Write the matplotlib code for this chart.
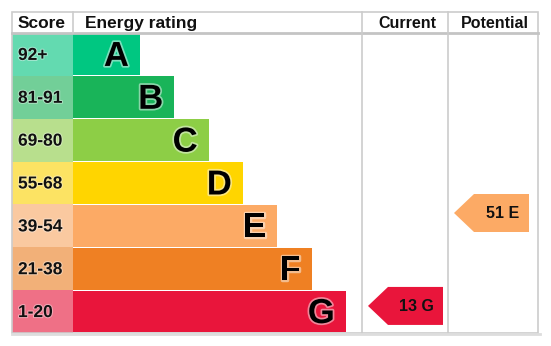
import matplotlib
matplotlib.use("Agg")
import matplotlib.pyplot as plt
from matplotlib.patches import Polygon, Rectangle
import matplotlib.patheffects as pe
import numpy as np

# ---- data ----
ratings = ["A", "B", "C", "D", "E", "F", "G"]
score_labels = ["92+", "81-91", "69-80", "55-68", "39-54", "21-38", "1-20"]
band_min = [92, 81, 69, 55, 39, 21, 1]
band_max = [100, 91, 80, 68, 54, 38, 20]
bar_colors = ["#00c781", "#19b459", "#8dce46", "#ffd500", "#fcaa65", "#ef8023", "#e9153b"]
headers = ["Score", "Energy rating", "Current", "Potential"]
current_score, current_band = 13, "G"
potential_score, potential_band = 51, "E"

# ---- layout ----
W, H = 551, 346
fig = plt.figure(figsize=(W / 100, H / 100), dpi=100)
ax = fig.add_axes([0, 0, 1, 1])
ax.set_xlim(0, W)
ax.set_ylim(H, 0)
ax.axis("off")

left, top, right, bottom = 12, 12, 538, 333
header_bottom = 33
score_right = 73
cur_left, pot_left = 362, 448
row_h = (bottom - header_bottom) / len(ratings)
FONT = "Liberation Sans"


def lighten(c, a=0.6, base=0.97):
    rgb = np.array(matplotlib.colors.to_rgb(c))
    return tuple(rgb * a + base * (1 - a))


# rows
for i, (r, lab, col) in enumerate(zip(ratings, score_labels, bar_colors)):
    y0 = header_bottom + i * row_h
    yc = y0 + row_h / 2
    ax.barh(yc, score_right - left, left=left, height=row_h, color=lighten(col),
            edgecolor="none")
    length = 67 + 34.3 * i
    ax.barh(yc, length, left=score_right, height=row_h - 1, color=col,
            edgecolor="none")
    ax.text(left + 6, yc + 1, lab, ha="left", va="center", fontsize=12.5,
            fontweight="bold", family=FONT, color="#111111",
            path_effects=[pe.withStroke(linewidth=1.5, foreground=lighten(col, 0.35))])
    ax.text(score_right + length - 11, yc + 2, r, ha="right", va="center",
            fontsize=25, fontweight="bold", family=FONT, color="#000000",
            path_effects=[pe.withStroke(linewidth=2.5, foreground=lighten(col, 0.5))])

# grid lines
gc = "#cccccc"
ax.add_patch(Rectangle((left, top), right - left, bottom - top, fill=False,
                       edgecolor=gc, linewidth=1.2))
ax.plot([left, right], [header_bottom, header_bottom], color="#c4c4c4", lw=2)
ax.plot([score_right, score_right], [top, header_bottom], color=gc, lw=1.2)
for x in (cur_left, pot_left):
    ax.plot([x, x], [top, bottom], color=gc, lw=1.2)
ax.plot([left, right + 2], [bottom + 1, bottom + 1], color="#dddddd", lw=2)

# headers
hy = (top + header_bottom) / 2 + 1
ax.text(left + 6, hy, headers[0], ha="left", va="center", fontsize=12.5,
        fontweight="bold", family=FONT, color="#111111")
ax.text(score_right + 12, hy, headers[1], ha="left", va="center", fontsize=12.5,
        fontweight="bold", family=FONT, color="#111111")
ax.text((cur_left + pot_left) / 2 + 2, hy, headers[2], ha="center", va="center",
        fontsize=11.5, fontweight="bold", family=FONT, color="#111111")
ax.text((pot_left + right) / 2 + 2, hy, headers[3], ha="center", va="center",
        fontsize=11.5, fontweight="bold", family=FONT, color="#111111")


def arrow(col_left, score, band):
    i = ratings.index(band)
    y0 = header_bottom + i * row_h
    yc = y0 + (band_max[i] - score) / (band_max[i] - band_min[i]) * row_h
    h = 38
    x0 = col_left + 6
    x1 = x0 + 75
    tip = 20
    pts = [(x0, yc), (x0 + tip, yc - h / 2), (x1, yc - h / 2),
           (x1, yc + h / 2), (x0 + tip, yc + h / 2)]
    ax.add_patch(Polygon(pts, closed=True, facecolor=bar_colors[i], edgecolor="none"))
    ax.text((x0 + tip + x1) / 2 + 1, yc + 1, f"{score} {band}", ha="center",
            va="center", fontsize=11.5, fontweight="bold", family=FONT, color="#111111")


arrow(cur_left, current_score, current_band)
arrow(pot_left, potential_score, potential_band)

fig.savefig("out.png", dpi=100)
